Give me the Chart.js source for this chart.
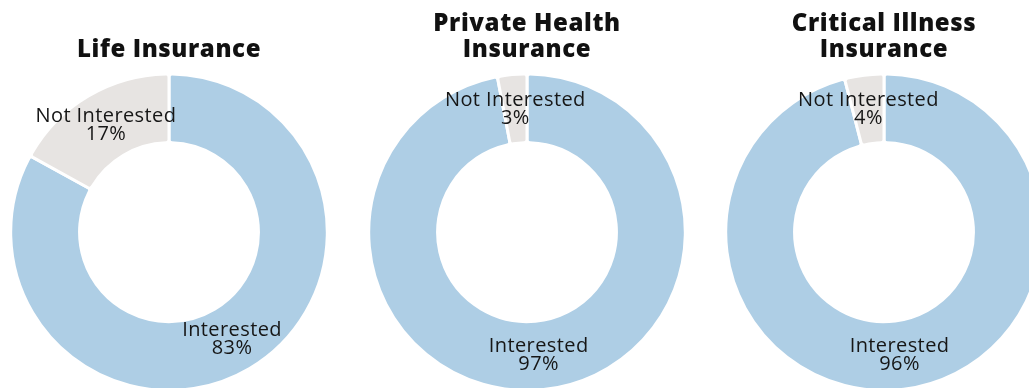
<!DOCTYPE html>
<html>
<head>
<meta charset="utf-8">
<script src="https://cdn.jsdelivr.net/npm/chart.js@4.4.0/dist/chart.umd.min.js"></script>
<style>
  html, body { margin: 0; padding: 0; background: #fff; overflow: hidden; }
  #wrap { position: relative; width: 1029px; height: 388px; overflow: hidden; }
  .box { position: absolute; top: 0; width: 338px; height: 392px; }
</style>
</head>
<body>
<div id="wrap">
  <div class="box" style="left:0px"><canvas id="chart_life"></canvas></div>
  <div class="box" style="left:358px"><canvas id="chart_health"></canvas></div>
  <div class="box" style="left:715px"><canvas id="chart_critical"></canvas></div>
</div>
<script>
// data
var categories = ['Interested', 'Not Interested'];
var lifeValues = [83, 17];
var healthValues = [97, 3];
var criticalValues = [96, 4];
var lifeTitle = ['', 'Life Insurance'];
var healthTitle = ['Private Health', 'Insurance'];
var criticalTitle = ['Critical Illness', 'Insurance'];

var colors = ['#aecee5', '#e7e4e2'];

// slightly wider letters for the title (canvas letterSpacing)
var titleSpacing = {
  id: 'titleSpacing',
  beforeDraw: function(chart) {
    chart.ctx.letterSpacing = '0.6px';
  }
};

// draw "label / value%" in the middle of each slice
var sliceLabels = {
  id: 'sliceLabels',
  afterDatasetsDraw: function(chart) {
    var ctx = chart.ctx;
    var meta = chart.getDatasetMeta(0);
    var values = chart.data.datasets[0].data;
    ctx.save();
    ctx.letterSpacing = '0.4px';
    ctx.fillStyle = '#161616';
    ctx.font = '20px "Open Sans", sans-serif';
    ctx.textAlign = 'center';
    ctx.textBaseline = 'middle';
    meta.data.forEach(function(arc, i) {
      var p = arc.tooltipPosition();
      ctx.fillText(chart.data.labels[i], p.x, p.y - 9);
      ctx.fillText(values[i] + '%', p.x, p.y + 9);
    });
    ctx.restore();
  }
};

function drawDonut(id, title, values) {
  var ctx = document.getElementById(id).getContext('2d');
  return new Chart(ctx, {
    type: 'doughnut',
    data: {
      labels: categories,
      datasets: [{
        data: values,
        backgroundColor: colors,
        borderColor: '#ffffff',
        borderWidth: 3,
        borderRadius: 3
      }]
    },
    options: {
      responsive: true,
      maintainAspectRatio: false,
      animation: false,
      cutout: '56.5%',
      layout: { padding: { left: 9, right: 9, top: 0, bottom: 0 } },
      plugins: {
        legend: { display: false },
        tooltip: { enabled: false },
        title: {
          display: true,
          text: title,
          color: '#111',
          font: { family: '"Open Sans", sans-serif', size: 24, weight: '800', lineHeight: 1.05 },
          padding: { top: 12, bottom: 10 }
        }
      }
    },
    plugins: [titleSpacing, sliceLabels]
  });
}

drawDonut('chart_life', lifeTitle, lifeValues);
drawDonut('chart_health', healthTitle, healthValues);
drawDonut('chart_critical', criticalTitle, criticalValues);
</script>
</body>
</html>
